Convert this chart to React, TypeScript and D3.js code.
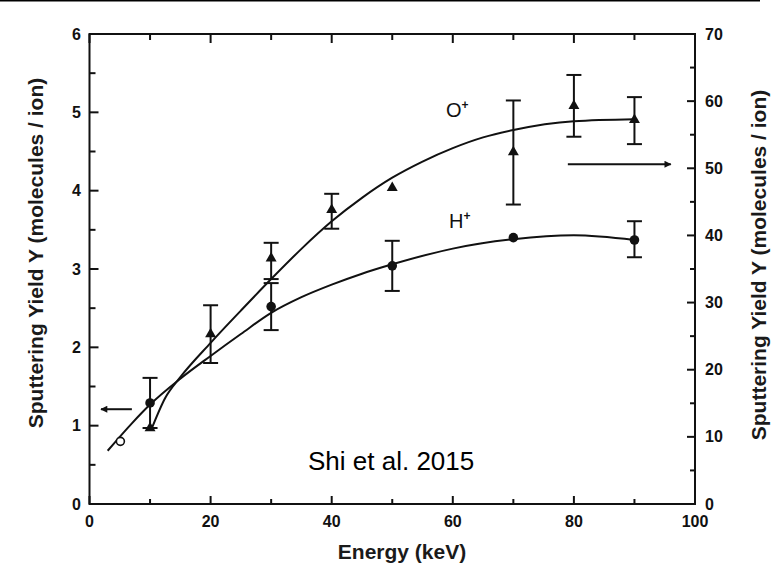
import React from "react";
import * as d3 from "d3";

// ---- Data ----
const xTicks = [0, 20, 40, 60, 80, 100];
const leftTicks = [0, 1, 2, 3, 4, 5, 6];
const rightTicks = [0, 10, 20, 30, 40, 50, 60, 70];

// H+ (left axis, molecules/ion)
const hEnergy = [10, 30, 50, 70, 90];
const hYield = [1.29, 2.52, 3.04, 3.4, 3.37];
const hErrLow = [0.97, 2.22, 2.72, null, 3.15];
const hErrHigh = [1.61, 2.82, 3.36, null, 3.61];

// O+ (right axis, molecules/ion)
const oEnergy = [10, 20, 30, 40, 50, 70, 80, 90];
const oYield = [11.3, 25.3, 36.6, 43.8, 47.1, 52.4, 59.3, 57.2];
const oErrLow = [null, 21.0, 33.5, 41.0, null, 44.6, 54.7, 53.6];
const oErrHigh = [null, 29.6, 38.9, 46.2, null, 60.1, 63.9, 60.6];

// fitted curves
const hFitX = [3, 7, 10, 15, 20, 25, 30, 35, 40, 45, 50, 60, 70, 80, 90];
const hFitY = [0.68, 1.03, 1.27, 1.6, 1.89, 2.17, 2.44, 2.64, 2.8, 2.94, 3.06, 3.26, 3.38, 3.43, 3.37];
const oFitX = [10.3, 12.5, 15, 20, 25, 30, 35, 40, 45, 50, 55, 60, 65, 70, 80, 90];
const oFitY = [11.3, 15.8, 18.9, 24.0, 28.8, 33.5, 38.0, 42.1, 45.6, 48.6, 51.0, 53.0, 54.6, 55.7, 57.0, 57.3];

// extra open marker
const openX = [5.1];
const openY = [0.8];

// arrows: [x0, x1] in energy, y in axis units
const leftArrowX = [7, 1.9];
const leftArrowY = 1.21;
const rightArrowX = [79, 96];
const rightArrowY = 50.6;

const W = 778;
const H = 567;
const m = { left: 89.5, right: 695, top: 34, bottom: 504 };

export default function App() {
  const x = d3.scaleLinear().domain([0, 100]).range([m.left, m.right]);
  const yL = d3.scaleLinear().domain([0, 6]).range([m.bottom, m.top]);
  const yR = d3.scaleLinear().domain([0, 70]).range([m.bottom, m.top]);

  const font = "'Liberation Sans', Arial, Helvetica, sans-serif";
  const lw = 2;

  const hLine = d3
    .line<number>()
    .x((_, i) => x(hFitX[i]))
    .y((d) => yL(d))
    .curve(d3.curveMonotoneX);
  const oLine = d3
    .line<number>()
    .x((_, i) => x(oFitX[i]))
    .y((d) => yR(d))
    .curve(d3.curveMonotoneX);

  const tri = d3.symbol(d3.symbolTriangle, 52)();

  const minorX = d3.range(10, 100, 20);
  const minorL = d3.range(0.5, 6, 1);
  const minorR = d3.range(5, 70, 10);

  const capW = 7.5;

  return (
    <svg
      width={W}
      height={H}
      style={{ position: "absolute", left: 0, top: 0, background: "#fff" }}
      fontFamily={font}
    >
      <rect x={0} y={0} width={W} height={H} fill="#fff" />
      <line x1={0} x2={760} y1={0.5} y2={0.5} stroke="#000" strokeWidth={2} />

      {/* frame */}
      <rect
        x={m.left}
        y={m.top}
        width={m.right - m.left}
        height={m.bottom - m.top}
        fill="none"
        stroke="#111"
        strokeWidth={lw}
      />

      {/* ticks bottom/top */}
      {xTicks.map((t) => (
        <g key={"xt" + t}>
          <line x1={x(t)} x2={x(t)} y1={m.bottom} y2={m.bottom - 8} stroke="#111" strokeWidth={lw} />
          <line x1={x(t)} x2={x(t)} y1={m.top} y2={m.top + 9} stroke="#111" strokeWidth={lw} />
          <text x={x(t)} y={527} textAnchor="middle" fontSize={16} fontWeight="bold" fill="#111">
            {t}
          </text>
        </g>
      ))}
      {minorX.map((t) => (
        <g key={"xm" + t}>
          <line x1={x(t)} x2={x(t)} y1={m.bottom} y2={m.bottom - 5} stroke="#111" strokeWidth={lw} />
          <line x1={x(t)} x2={x(t)} y1={m.top} y2={m.top + 6} stroke="#111" strokeWidth={lw} />
        </g>
      ))}

      {/* left ticks */}
      {leftTicks.map((t) => (
        <g key={"lt" + t}>
          <line x1={m.left} x2={m.left + 9} y1={yL(t)} y2={yL(t)} stroke="#111" strokeWidth={lw} />
          <text x={81} y={yL(t) + 5.5} textAnchor="end" fontSize={16} fontWeight="bold" fill="#111">
            {t}
          </text>
        </g>
      ))}
      {minorL.map((t) => (
        <line key={"lm" + t} x1={m.left} x2={m.left + 6} y1={yL(t)} y2={yL(t)} stroke="#111" strokeWidth={lw} />
      ))}

      {/* right ticks */}
      {rightTicks.map((t) => (
        <g key={"rt" + t}>
          <line x1={m.right} x2={m.right - 8} y1={yR(t)} y2={yR(t)} stroke="#111" strokeWidth={lw} />
          <text x={705} y={yR(t) + 5.5} textAnchor="start" fontSize={16} fontWeight="bold" fill="#111">
            {t}
          </text>
        </g>
      ))}
      {minorR.map((t) => (
        <line key={"rm" + t} x1={m.right} x2={m.right - 5} y1={yR(t)} y2={yR(t)} stroke="#111" strokeWidth={lw} />
      ))}

      {/* axis titles */}
      <text x={402} y={559} textAnchor="middle" fontSize={21} fontWeight="bold" fill="#1a1a1a">
        Energy (keV)
      </text>
      <text
        transform={`translate(43,253) rotate(-90)`}
        textAnchor="middle"
        fontSize={21}
        fontWeight="bold"
        fill="#1a1a1a"
      >
        Sputtering Yield Y (molecules / ion)
      </text>
      <text
        transform={`translate(766,265) rotate(-90)`}
        textAnchor="middle"
        fontSize={21}
        fontWeight="bold"
        fill="#1a1a1a"
      >
        Sputtering Yield Y (molecules / ion)
      </text>

      {/* fit curves */}
      <path d={hLine(hFitY) || ""} fill="none" stroke="#111" strokeWidth={2} />
      <path d={oLine(oFitY) || ""} fill="none" stroke="#111" strokeWidth={2} />

      {/* error bars H+ */}
      {hEnergy.map((e, i) =>
        hErrLow[i] == null ? null : (
          <g key={"he" + i} stroke="#111" strokeWidth={2}>
            <line x1={x(e)} x2={x(e)} y1={yL(hErrLow[i] as number)} y2={yL(hErrHigh[i] as number)} />
            <line x1={x(e) - capW} x2={x(e) + capW} y1={yL(hErrLow[i] as number)} y2={yL(hErrLow[i] as number)} />
            <line x1={x(e) - capW} x2={x(e) + capW} y1={yL(hErrHigh[i] as number)} y2={yL(hErrHigh[i] as number)} />
          </g>
        )
      )}
      {/* error bars O+ */}
      {oEnergy.map((e, i) =>
        oErrLow[i] == null ? null : (
          <g key={"oe" + i} stroke="#111" strokeWidth={2}>
            <line x1={x(e)} x2={x(e)} y1={yR(oErrLow[i] as number)} y2={yR(oErrHigh[i] as number)} />
            <line x1={x(e) - capW} x2={x(e) + capW} y1={yR(oErrLow[i] as number)} y2={yR(oErrLow[i] as number)} />
            <line x1={x(e) - capW} x2={x(e) + capW} y1={yR(oErrHigh[i] as number)} y2={yR(oErrHigh[i] as number)} />
          </g>
        )
      )}

      {/* markers */}
      {hEnergy.map((e, i) => (
        <circle key={"hc" + i} cx={x(e)} cy={yL(hYield[i])} r={4.8} fill="#111" />
      ))}
      {oEnergy.map((e, i) => (
        <path key={"ot" + i} d={tri || ""} transform={`translate(${x(e)},${yR(oYield[i])})`} fill="#111" />
      ))}
      {openX.map((e, i) => (
        <circle key={"oc" + i} cx={x(e)} cy={yL(openY[i])} r={4} fill="#fff" stroke="#111" strokeWidth={1.6} />
      ))}

      {/* arrows */}
      <defs>
        <marker
          id="ah"
          viewBox="0 0 10 10"
          refX={9}
          refY={5}
          markerWidth={10}
          markerHeight={7}
          orient="auto"
          markerUnits="userSpaceOnUse"
        >
          <path d="M0,0 L10,5 L0,10 z" fill="#111" />
        </marker>
      </defs>
      <line
        x1={x(leftArrowX[0])}
        x2={x(leftArrowX[1])}
        y1={yL(leftArrowY)}
        y2={yL(leftArrowY)}
        stroke="#111"
        strokeWidth={2}
        markerEnd="url(#ah)"
      />
      <line
        x1={x(rightArrowX[0])}
        x2={x(rightArrowX[1])}
        y1={yR(rightArrowY)}
        y2={yR(rightArrowY)}
        stroke="#111"
        strokeWidth={2}
        markerEnd="url(#ah)"
      />

      {/* series labels */}
      <text x={446} y={117} fontSize={20} fill="#111">
        O<tspan dy={-8} fontSize={12} fontWeight="bold">+</tspan>
      </text>
      <text x={449} y={228} fontSize={20} fill="#111">
        H<tspan dy={-8} fontSize={12} fontWeight="bold">+</tspan>
      </text>

      {/* citation */}
      <text x={308} y={470} fontSize={26} fill="#000">
        Shi et al. 2015
      </text>
    </svg>
  );
}
